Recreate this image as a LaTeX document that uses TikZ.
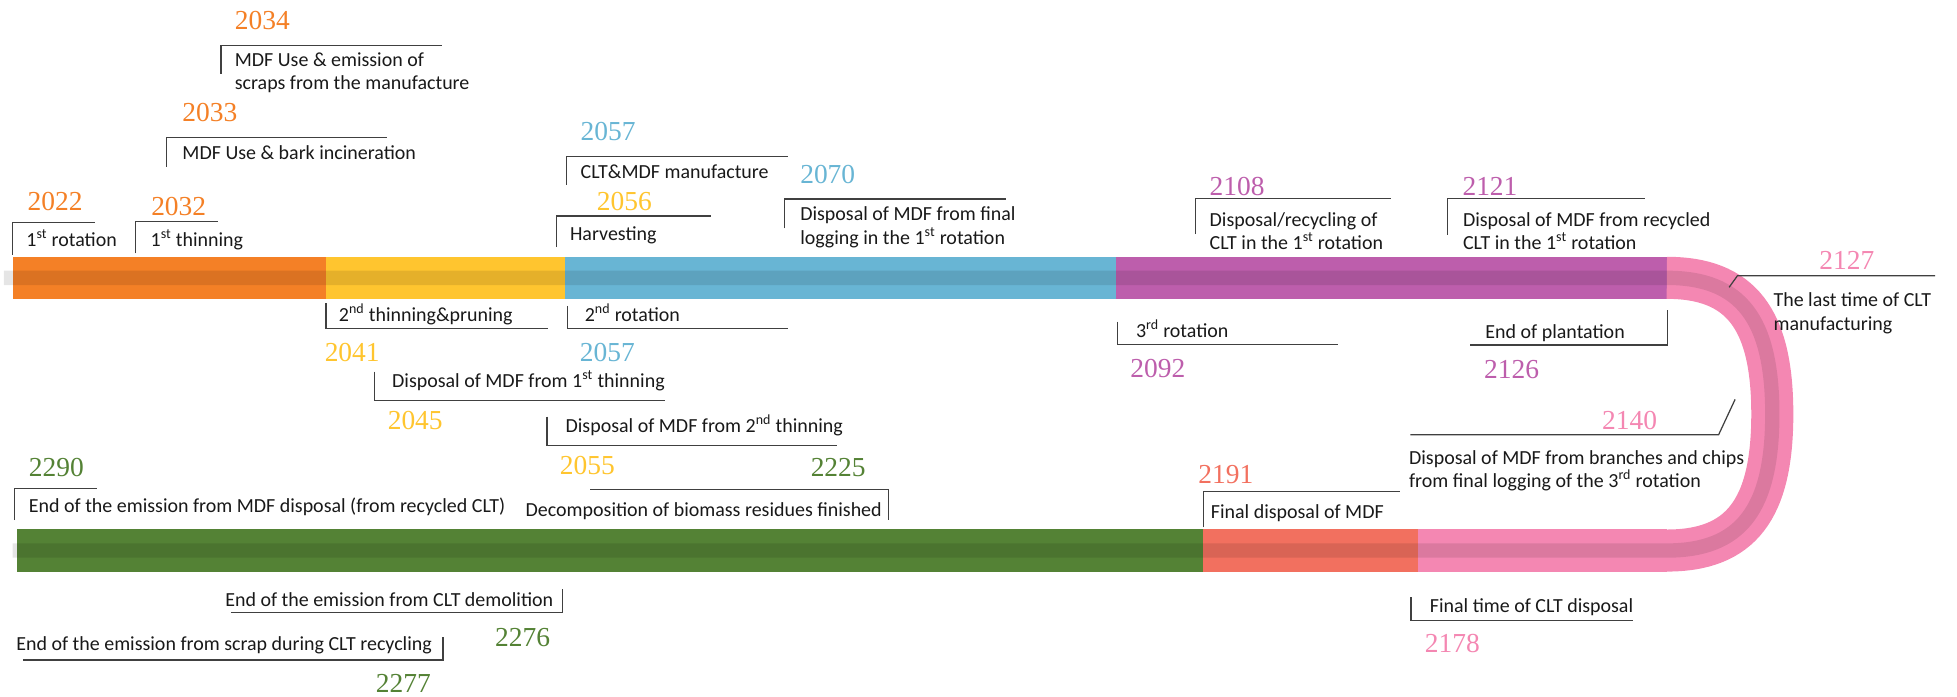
\documentclass[tikz,border=0pt]{standalone}
\usepackage{fontspec}
\setmainfont{Carlito}
\newfontfamily\yearfam{Liberation Serif}
\definecolor{rotorange}{RGB}{244,128,38}
\definecolor{rotyellow}{RGB}{255,197,47}
\definecolor{rotblue}{RGB}{104,181,212}
\definecolor{rotpurple}{RGB}{189,94,172}
\definecolor{rotpink}{RGB}{244,135,178}
\definecolor{rotsalmon}{RGB}{242,112,95}
\definecolor{rotgreen}{RGB}{84,130,53}

\begin{document}
\begin{tikzpicture}[x=1pt, y=-1pt,
  yr/.style={text=#1, font=\yearfam\fontsize{22}{24}\selectfont, anchor=base west, inner sep=0pt},
  lbl/.style={font=\fontsize{16}{18.7}\selectfont, text=black!90, anchor=base west, inner sep=0pt, align=left},
  callout/.style={draw=black!75, line width=1pt},
  stripe/.style={draw=black, draw opacity=0.1, line width=11.5},
]
  \useasboundingbox (0,0) rectangle (1568,558);

  % the two bars and the bend
  \foreach \a/\b/\c in {10.2/261.2/rotorange, 261.2/452.5/rotyellow, 452.5/893.8/rotblue, 893.8/1335.6/rotpurple}
    \fill[\c] (\a,205.7) rectangle (\b,239.4);
  \foreach \a/\b/\c in {13.9/963.6/rotgreen, 963.6/1136.2/rotsalmon, 1136.2/1335.6/rotpink}
    \fill[\c] (\a,424.2) rectangle (\b,458);
  \draw[rotpink, line width=33.7] (1335.5,222.6) .. controls (1394.7,222.6) and (1420,255.3) .. (1420,331.8)
    .. controls (1420,408.3) and (1394.7,441.1) .. (1335.5,441.1);
  \draw[stripe] (3.2,222.6) -- (1335.5,222.6) .. controls (1394.7,222.6) and (1420,255.3) .. (1420,331.8)
    .. controls (1420,408.3) and (1394.7,441.1) .. (1335.5,441.1) -- (10.2,441.1);

  % above the first bar
  \node[yr=rotorange] (y2034) at (188,23.5) {2034};
  \node[lbl] (t2034) at (188,71.6) {MDF Use \& emission of\\scraps from the manufacture};
  \draw[callout] (177,59) -- (177,36.6) -- (354,36.6);

  \node[yr=rotorange] (y2033) at (146,97.6) {2033};
  \node[lbl] (t2033) at (146,127.4) {MDF Use \& bark incineration};
  \draw[callout] (133.6,133.5) -- (133.6,110) -- (310,110);

  \node[yr=rotorange] (y2022) at (22,168.3) {2022};
  \node[lbl] (t2022) at (21,197.7) {1\textsuperscript{st} rotation};
  \draw[callout] (10.3,204) -- (10.3,178.5) -- (76,178.5);

  \node[yr=rotorange] (y2032) at (121,172.3) {2032};
  \node[lbl] (t2032) at (120.5,197.7) {1\textsuperscript{st} thinning};
  \draw[callout] (108.6,203) -- (108.6,177.6) -- (175,177.6);

  \node[yr=rotblue] (y2057a) at (465,112.2) {2057};
  \node[lbl] (t2057a) at (465,142.9) {CLT\&MDF manufacture};
  \draw[callout] (453.6,148) -- (453.6,125.6) -- (631.6,125.6);

  \node[yr=rotyellow] (y2056) at (478,168.3) {2056};
  \node[lbl] (t2056) at (456.5,192.3) {Harvesting};
  \draw[callout] (446,198) -- (446,173) -- (570,173);

  \node[yr=rotblue] (y2070) at (641,147) {2070};
  \node[lbl] (t2070) at (641,195.5) {Disposal of MDF from final\\logging in the 1\textsuperscript{st} rotation};
  \draw[callout] (628.7,183) -- (628.7,159.5) -- (805.8,159.5);

  \node[yr=rotpurple] (y2108) at (969,156.8) {2108};
  \node[lbl] (t2108) at (969,199.8) {Disposal/recycling of\\CLT in the 1\textsuperscript{st} rotation};
  \draw[callout] (958,187.5) -- (958,158.8) -- (1114.4,158.8);

  \node[yr=rotpurple] (y2121) at (1171.6,156.8) {2121};
  \node[lbl] (t2121) at (1172,199.8) {Disposal of MDF from recycled\\CLT in the 1\textsuperscript{st} rotation};
  \draw[callout] (1160,188) -- (1160,158.8) -- (1318,158.8);

  \node[yr=rotpink] (y2127) at (1457.5,216.3) {2127};
  \node[lbl] (t2127) at (1420.8,264.4) {The last time of CLT\\manufacturing};
  \draw[callout] (1385.4,230.2) -- (1392,221) -- (1550.5,221);

  % below the first bar
  \node[lbl] (t2041) at (271.4,257.7) {2\textsuperscript{nd} thinning\&pruning};
  \draw[callout] (261.2,243) -- (261.2,263) -- (439,263);
  \node[yr=rotyellow] (y2041) at (260,289.8) {2041};

  \node[lbl] (t2057b) at (468.4,257.7) {2\textsuperscript{nd} rotation};
  \draw[callout] (454.4,245) -- (454.4,263) -- (631.5,263);
  \node[yr=rotblue] (y2057b) at (464.5,289.8) {2057};

  \node[lbl] (t2045) at (314,310.4) {Disposal of MDF from 1\textsuperscript{st} thinning};
  \draw[callout] (299.8,297.8) -- (299.8,321) -- (532.6,321);
  \node[yr=rotyellow] (y2045) at (310.5,344) {2045};

  \node[lbl] (t2055) at (453,346.4) {Disposal of MDF from 2\textsuperscript{nd} thinning};
  \draw[callout] (438.3,333.9) -- (438.3,357) -- (670.6,357);
  \node[yr=rotyellow] (y2055) at (448.4,379.8) {2055};

  \node[lbl] (t2092) at (910,270.6) {3\textsuperscript{rd} rotation};
  \draw[callout] (895.4,257.7) -- (895.4,275.9) -- (1072,275.9);
  \node[yr=rotpurple] (y2092) at (905.5,302.4) {2092};

  \node[lbl] (t2126) at (1190,271.6) {End of plantation};
  \draw[callout] (1178,276.4) -- (1335.8,276.4) -- (1335.8,248.4);
  \node[yr=rotpurple] (y2126) at (1189,303) {2126};

  \node[yr=rotpink] (y2140) at (1283.5,343.8) {2140};
  \draw[callout] (1130,348.3) -- (1377,348.3) -- (1390.2,320);
  \node[lbl] (t2140) at (1128.8,390.5) {Disposal of MDF from branches and chips\\from final logging of the 3\textsuperscript{rd} rotation};

  % above the second bar
  \node[yr=rotgreen] (y2290) at (23,382) {2290};
  \draw[callout] (11.5,416.7) -- (11.5,391.3) -- (78,391.3);
  \node[lbl] (t2290) at (23,410.5) {End of the emission from MDF disposal (from recycled CLT)};

  \node[yr=rotgreen] (y2225) at (649.4,381.4) {2225};
  \draw[callout] (473,392) -- (712,392) -- (712,417);
  \node[lbl] (t2225) at (421,413.5) {Decomposition of biomass residues finished};

  \node[yr=rotsalmon] (y2191) at (960,387.3) {2191};
  \draw[callout] (964.5,422.5) -- (964.5,394) -- (1121.6,394);
  \node[lbl] (t2191) at (970,415.3) {Final disposal of MDF};

  % below the second bar
  \node[lbl] (t2276) at (180.3,485.6) {End of the emission from CLT demolition};
  \draw[callout] (184.9,491) -- (450.7,491) -- (450.7,472);
  \node[yr=rotgreen] (y2276) at (396.5,517.6) {2276};

  \node[lbl] (t2277) at (12.9,521.4) {End of the emission from scrap during CLT recycling};
  \draw[callout] (18.4,528.8) -- (355,528.8) -- (355,510);
  \node[yr=rotgreen] (y2277) at (301,555) {2277};

  \node[lbl] (t2178) at (1145.5,490.6) {Final time of CLT disposal};
  \draw[callout] (1130.6,478.4) -- (1130.6,497.3) -- (1308.5,497.3);
  \node[yr=rotpink] (y2178) at (1141.4,523) {2178};
\end{tikzpicture}
\end{document}
